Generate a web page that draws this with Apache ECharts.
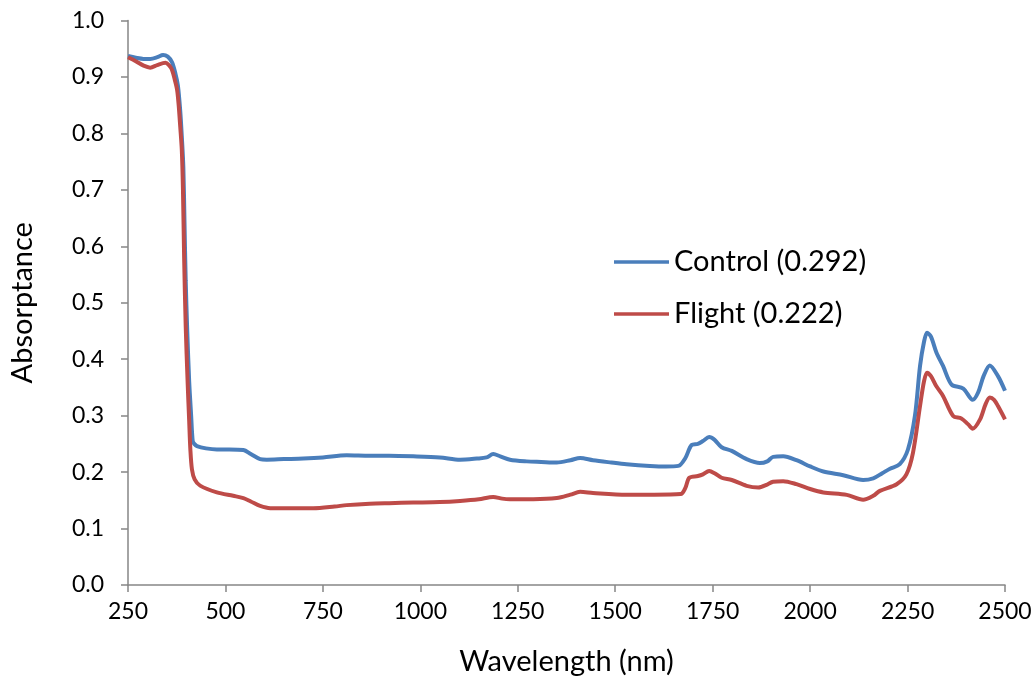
<!DOCTYPE html>
<html>
<head>
<meta charset="utf-8">
<script src="https://cdn.jsdelivr.net/npm/echarts@6/dist/echarts.min.js"></script>
<style>
  html, body { margin: 0; padding: 0; background: #fff; }
  #chart { width: 1036px; height: 681px; }
</style>
</head>
<body>
<div id="chart"></div>
<script>
// Absorptance spectra, [wavelength nm, absorptance]
const seriesNames = ['Control (0.292)', 'Flight (0.222)'];
const seriesColors = ['#4a7ebb', '#be4b48'];

const controlPoints = [
  [250,0.937],[270,0.934],[290,0.932],[307,0.932],[325,0.935],[340,0.939],[352,0.936],
  [363,0.926],[372,0.905],[378,0.885],[384,0.84],[388,0.795],[392,0.74],[395,0.64],
  [398,0.54],[402,0.45],[407,0.36],[412,0.30],[416,0.255],[420,0.25],[427,0.246],
  [450,0.242],[478,0.240],[510,0.240],[546,0.239],[565,0.232],[589,0.223],[606,0.222],
  [650,0.223],[700,0.224],[750,0.226],[811,0.230],[870,0.229],[920,0.229],[982,0.228],
  [1050,0.226],[1102,0.222],[1145,0.224],[1170,0.226],[1187,0.232],[1205,0.228],
  [1230,0.222],[1273,0.219],[1310,0.218],[1350,0.217],[1385,0.221],[1410,0.225],
  [1443,0.221],[1490,0.217],[1529,0.214],[1589,0.211],[1630,0.210],[1662,0.211],
  [1680,0.225],[1696,0.248],[1712,0.250],[1725,0.255],[1741,0.262],[1755,0.257],
  [1773,0.244],[1799,0.2375],[1837,0.223],[1871,0.216],[1890,0.219],[1905,0.227],
  [1931,0.228],[1965,0.221],[2000,0.210],[2034,0.201],[2085,0.1945],[2136,0.186],
  [2162,0.189],[2185,0.198],[2205,0.206],[2230,0.214],[2251,0.24],[2269,0.30],
  [2282,0.388],[2292,0.43],[2300,0.447],[2310,0.44],[2324,0.412],[2341,0.388],
  [2363,0.355],[2393,0.348],[2417,0.328],[2431,0.341],[2445,0.37],[2461,0.389],
  [2482,0.37],[2500,0.344]
];

const flightPoints = [
  [250,0.935],[270,0.928],[290,0.920],[307,0.9165],[325,0.921],[346,0.925],[355,0.921],
  [363,0.9125],[370,0.895],[376,0.877],[380,0.85],[384,0.812],[388,0.771],[391,0.70],
  [394,0.58],[398,0.46],[403,0.359],[407,0.29],[410,0.24],[414,0.205],[421,0.187],
  [435,0.176],[478,0.164],[520,0.158],[546,0.154],[565,0.148],[589,0.140],[615,0.136],
  [650,0.136],[725,0.136],[780,0.139],[811,0.1415],[870,0.144],[920,0.145],[982,0.146],
  [1050,0.147],[1102,0.149],[1150,0.152],[1187,0.156],[1210,0.153],[1230,0.152],
  [1290,0.152],[1350,0.154],[1385,0.160],[1410,0.165],[1443,0.163],[1529,0.160],
  [1600,0.160],[1668,0.161],[1680,0.172],[1690,0.190],[1712,0.193],[1725,0.196],
  [1741,0.202],[1755,0.198],[1773,0.190],[1799,0.186],[1837,0.1757],[1867,0.1727],
  [1890,0.178],[1905,0.183],[1931,0.184],[1965,0.1786],[2000,0.170],[2034,0.164],
  [2094,0.1597],[2136,0.151],[2162,0.158],[2179,0.1668],[2222,0.1786],[2247,0.196],
  [2264,0.2346],[2282,0.317],[2292,0.36],[2300,0.376],[2310,0.37],[2324,0.352],
  [2341,0.335],[2367,0.2995],[2388,0.295],[2405,0.285],[2417,0.277],[2436,0.2935],
  [2450,0.32],[2461,0.332],[2472,0.328],[2482,0.317],[2500,0.2935]
];

const xTicks = { min: 250, max: 2500, step: 250 };
const yTicks = { min: 0, max: 1, step: 0.1 };

const FONT = 'Lato, "Liberation Sans", sans-serif';
const AXIS_GREY = '#868686';

const chart = echarts.init(document.getElementById('chart'), null, { renderer: 'canvas' });

const axisCommon = {
  axisLine: { show: true, onZero: false, lineStyle: { color: AXIS_GREY, width: 1.5 } },
  axisTick: { show: true, inside: false, length: 7, lineStyle: { color: AXIS_GREY, width: 1.5 } },
  splitLine: { show: false },
  nameTextStyle: { fontFamily: FONT, fontSize: 29, color: '#000' }
};

chart.setOption({
  animation: false,
  backgroundColor: '#fff',
  grid: { left: 128, right: 31, top: 20.5, bottom: 95, containLabel: false },
  legend: {
    orient: 'vertical',
    left: 609,
    top: 242,
    icon: 'rect',
    itemWidth: 55,
    itemHeight: 3.5,
    itemGap: 22,
    data: seriesNames,
    textStyle: { fontFamily: FONT, fontSize: 29, color: '#000', lineHeight: 30 }
  },
  xAxis: Object.assign({}, axisCommon, {
    type: 'value',
    min: xTicks.min,
    max: xTicks.max,
    interval: xTicks.step,
    name: 'Wavelength (nm)',
    nameLocation: 'middle',
    nameGap: 62,
    axisLabel: {
      fontFamily: FONT, fontSize: 23, color: '#000', margin: 15,
      formatter: v => String(v)
    }
  }),
  yAxis: Object.assign({}, axisCommon, {
    type: 'value',
    min: yTicks.min,
    max: yTicks.max,
    interval: yTicks.step,
    name: 'Absorptance',
    nameLocation: 'middle',
    nameRotate: 90,
    nameGap: 91,
    axisLabel: {
      fontFamily: FONT, fontSize: 23, color: '#000', margin: 24,
      formatter: v => v.toFixed(1)
    }
  }),
  series: [
    {
      name: seriesNames[0], type: 'line', data: controlPoints,
      showSymbol: false, smooth: 0.3, z: 2,
      lineStyle: { color: seriesColors[0], width: 4 },
      itemStyle: { color: seriesColors[0] }
    },
    {
      name: seriesNames[1], type: 'line', data: flightPoints,
      showSymbol: false, smooth: 0.3, z: 3,
      lineStyle: { color: seriesColors[1], width: 4 },
      itemStyle: { color: seriesColors[1] }
    }
  ]
});
</script>
</body>
</html>
